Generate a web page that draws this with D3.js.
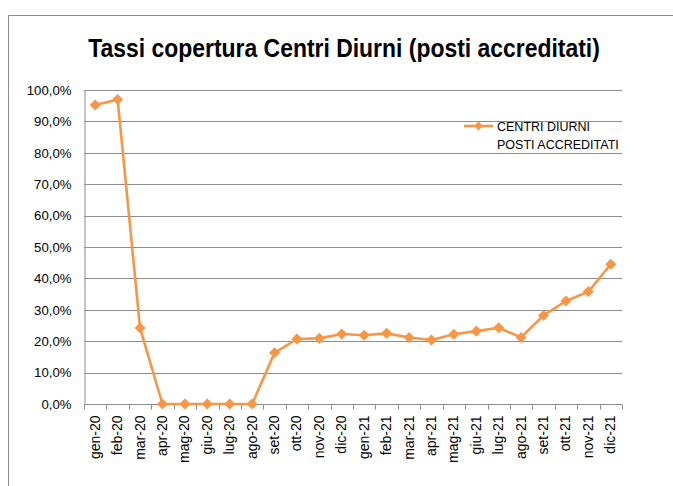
<!DOCTYPE html>
<html>
<head>
<meta charset="utf-8">
<script src="https://cdn.jsdelivr.net/npm/d3@7"></script>
<style>
body { margin: 0; background: #fff; }
text { font-family: "Liberation Sans", Arial, sans-serif; fill: #000; }
</style>
</head>
<body>
<div id="chart"></div>
<script>
const months = ['gen-20','feb-20','mar-20','apr-20','mag-20','giu-20','lug-20','ago-20','set-20','ott-20','nov-20','dic-20',
    'gen-21','feb-21','mar-21','apr-21','mag-21','giu-21','lug-21','ago-21','set-21','ott-21','nov-21','dic-21']
const coverage = [0.952, 0.970, 0.242, 0, 0, 0, 0, 0, 0.163, 0.207, 0.209, 0.223,
    0.219, 0.225, 0.212, 0.204, 0.222, 0.232, 0.243, 0.212, 0.282, 0.328, 0.358, 0.445]
const yTicks = [0, 0.1, 0.2, 0.3, 0.4, 0.5, 0.6, 0.7, 0.8, 0.9, 1.0]
const titleText = 'Tassi copertura Centri Diurni (posti accreditati)'
const legendLines = ['CENTRI DIURNI', 'POSTI ACCREDITATI']

const width = 673, height = 486
const margin = { top: 90, right: 51, bottom: 82, left: 84 }
const orange = '#f79646'
const grid = '#8c8c8c'

const svg = d3.select('#chart').append('svg')
    .attr('width', width)
    .attr('height', height)

// chart frame (only top and left edges visible)
svg.append('path')
    .attr('d', `M8.5,${height} V15.5 H${width}`)
    .attr('fill', 'none')
    .attr('stroke', '#8a8a8a')
    .attr('stroke-width', 1)

// title: squeeze horizontally to the reference width, like the narrow original font
const title = svg.append('text')
    .attr('text-anchor', 'middle')
    .attr('font-size', 26)
    .attr('font-weight', 'bold')
    .text(titleText)
const tw = title.node().getComputedTextLength()
title.attr('transform', `translate(344,57) scale(${Math.min(1, 512 / tw)},1)`)

const x = d3.scaleBand()
    .domain(months)
    .range([margin.left, width - margin.right])

const y = d3.scaleLinear()
    .domain([0, 1])
    .range([height - margin.bottom, margin.top])

const fmt = d => d3.format('.1f')(d * 100).replace('.', ',') + '%'

// gridlines
svg.append('g')
    .selectAll('line')
    .data(yTicks.slice(1))
    .enter().append('line')
    .attr('x1', margin.left)
    .attr('x2', width - margin.right)
    .attr('y1', d => Math.round(y(d)) + 0.5)
    .attr('y2', d => Math.round(y(d)) + 0.5)
    .attr('stroke', grid)
    .attr('stroke-width', 1)

// y axis
const yAxis = svg.append('g')
    .attr('transform', `translate(${margin.left + 0.5},0)`)
    .call(d3.axisLeft(y).tickValues(yTicks).tickFormat(fmt).tickSize(0).tickPadding(13))
yAxis.select('.domain').attr('stroke', grid)
yAxis.selectAll('text')
    .attr('font-size', 13.2)
    .attr('font-family', '"Liberation Sans", Arial, sans-serif')
    .attr('fill', '#000')

// x axis with ticks between categories
const xAxis = svg.append('g')
    .attr('transform', `translate(0,${Math.round(y(0)) + 0.5})`)
xAxis.append('line')
    .attr('x1', margin.left)
    .attr('x2', width - margin.right)
    .attr('stroke', grid)
xAxis.selectAll('.tk')
    .data(months.concat(['end']))
    .enter().append('line')
    .attr('class', 'tk')
    .attr('x1', (d, i) => Math.round(margin.left + i * x.step()) + 0.5)
    .attr('x2', (d, i) => Math.round(margin.left + i * x.step()) + 0.5)
    .attr('y1', 0)
    .attr('y2', 5)
    .attr('stroke', grid)
xAxis.selectAll('.lbl')
    .data(months)
    .enter().append('text')
    .attr('class', 'lbl')
    .attr('transform', d => `translate(${x(d) + x.bandwidth() / 2 + 4.5},11) rotate(-90)`)
    .attr('text-anchor', 'end')
    .attr('font-size', 14)
    .text(d => d)

// series
const line = d3.line()
    .x((d, i) => x(months[i]) + x.bandwidth() / 2)
    .y(d => y(d))

svg.append('path')
    .datum(coverage)
    .attr('d', line)
    .attr('fill', 'none')
    .attr('stroke', orange)
    .attr('stroke-width', 2.6)
    .attr('stroke-linejoin', 'round')

const diamond = d3.symbol().type(d3.symbolDiamond2).size(78)

svg.append('g')
    .selectAll('path')
    .data(coverage)
    .enter().append('path')
    .attr('d', diamond)
    .attr('transform', (d, i) => `translate(${x(months[i]) + x.bandwidth() / 2},${y(d)})`)
    .attr('fill', orange)

// legend
const lg = svg.append('g').attr('transform', 'translate(464,126)')
lg.append('line')
    .attr('x1', 0).attr('x2', 29)
    .attr('stroke', orange)
    .attr('stroke-width', 2.6)
lg.append('path')
    .attr('d', d3.symbol().type(d3.symbolDiamond2).size(50))
    .attr('transform', 'translate(14.5,0)')
    .attr('fill', orange)
lg.selectAll('text')
    .data(legendLines)
    .enter().append('text')
    .attr('x', 33)
    .attr('y', (d, i) => 4.5 + i * 18)
    .attr('font-size', 12.5)
    .text(d => d)
</script>
</body>
</html>
